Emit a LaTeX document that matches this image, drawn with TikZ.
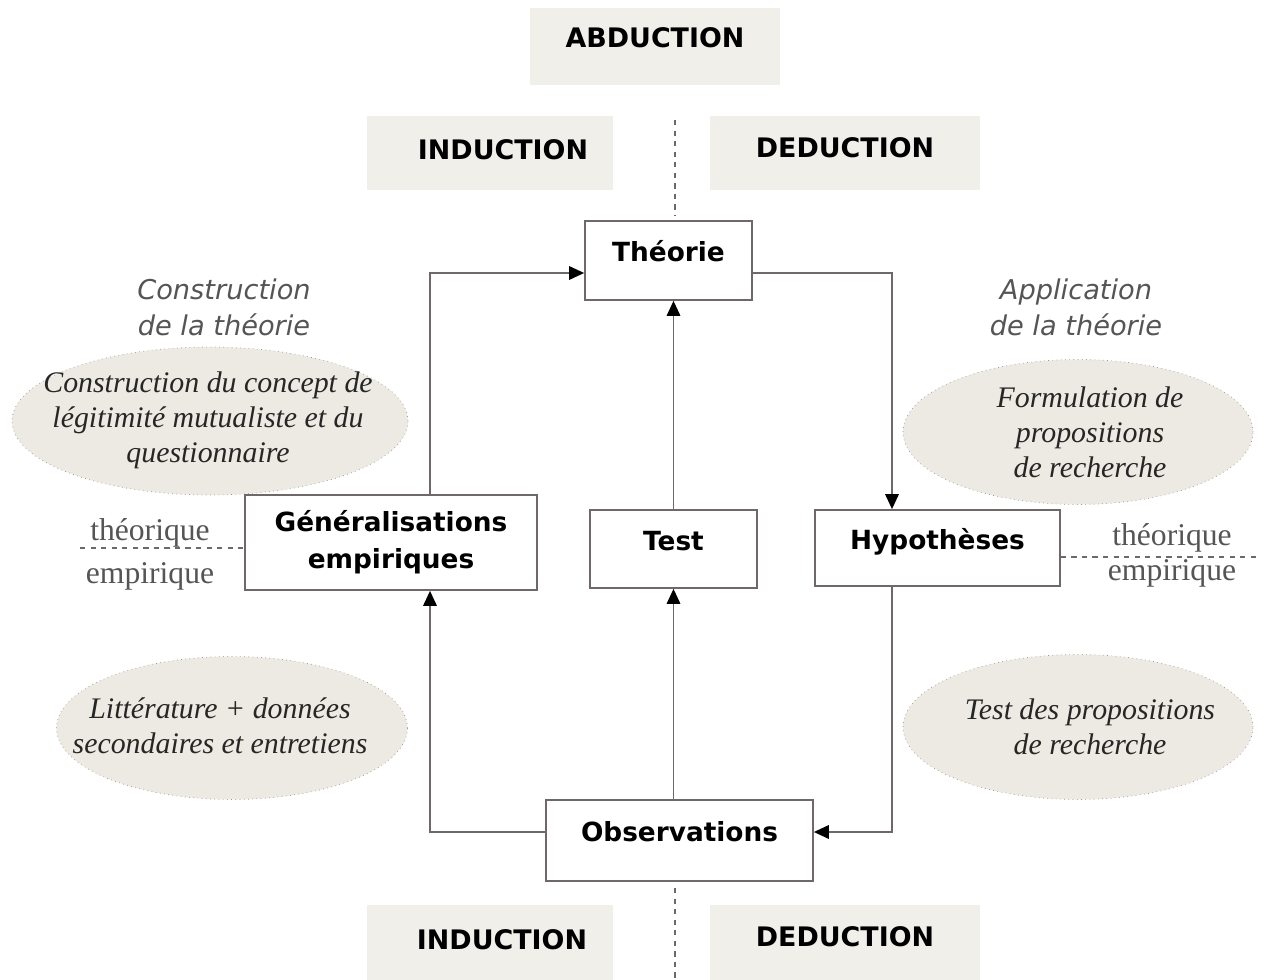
\documentclass[tikz,border=0pt]{standalone}
\usepackage{fontspec}
\setmainfont{Liberation Serif}
\setsansfont{DejaVu Sans}
\usetikzlibrary{shapes,arrows.meta}
\definecolor{trait}{RGB}{110,104,104}
\definecolor{fond}{RGB}{240,239,234}
\definecolor{fondbulle}{RGB}{236,234,226}
\definecolor{gristexte}{RGB}{85,85,85}
\tikzset{
  cadre/.style={draw=trait,line width=1pt,fill=white,inner sep=0pt,
    font=\sffamily\bfseries\fontsize{15}{21}\selectfont},
  boite/.style={cadre,text height=0.75em,text depth=0.62em},
  etiquette/.style={font=\sffamily\bfseries\fontsize{15.3}{18}\selectfont,inner sep=0pt},
  bulle/.style={ellipse,draw=trait!70,dotted,fill=fondbulle,inner sep=0pt},
  textebulle/.style={align=center,font=\itshape\fontsize{17}{20}\selectfont,text=black!85},
  titre/.style={align=center,font=\sffamily\itshape\fontsize{15.5}{20.5}\selectfont,text=gristexte},
  niveau/.style={font=\fontsize{18}{20}\selectfont,text=gristexte},
  fleche/.style={draw=trait,line width=1pt,-{Triangle[length=3mm,width=2.7mm,color=black]}},
  limite/.style={draw=trait,dashed,line width=0.8pt}
}
\begin{document}
\begin{tikzpicture}[x=0.02cm,y=-0.02cm]
\useasboundingbox (0,0) rectangle (1264,980);

\fill[fond] (530,8) rectangle (780,85);
\fill[fond] (367,116) rectangle (613,190);
\fill[fond] (710,116) rectangle (980,190);
\fill[fond] (367,905) rectangle (613,980);
\fill[fond] (710,905) rectangle (980,980);
\node[etiquette] (abduction) at (655,38) {ABDUCTION};
\node[etiquette] (indhaut) at (503,150) {INDUCTION};
\node[etiquette] (dedhaut) at (845,148) {DEDUCTION};
\node[etiquette] (indbas) at (502,940) {INDUCTION};
\node[etiquette] (dedbas) at (845,937) {DEDUCTION};

\node[titre] (construction) at (224,307) {Construction\\de la théorie};
\node[titre] (application) at (1076,307) {Application\\de la théorie};

\node[bulle,minimum width=7.92cm,minimum height=2.96cm] (concept) at (210,421) {};
\node[bulle,minimum width=7.02cm,minimum height=2.86cm] (litterature) at (232,728) {};
\node[bulle,minimum width=7cm,minimum height=2.9cm] (formulation) at (1078,432) {};
\node[bulle,minimum width=7cm,minimum height=2.9cm] (testprop) at (1078,727) {};
\node[textebulle] (tconcept) at (208,420)
  {Construction du concept de\\légitimité mutualiste et du\\questionnaire};
\node[textebulle] (tlitterature) at (220,726) {Littérature + données\\secondaires et entretiens};
\node[textebulle] (tformulation) at (1090,432) {Formulation de\\propositions\\de recherche};
\node[textebulle] (ttestprop) at (1090,727) {Test des propositions\\de recherche};

\node[boite,minimum width=3.34cm,minimum height=1.58cm] (theorie) at (668.5,260.5) {Théorie};
\node[boite,minimum width=3.34cm,minimum height=1.56cm] (test) at (673.5,549) {Test};
\node[cadre,align=center,minimum width=5.84cm,minimum height=1.9cm] (gen) at (391,542.5)
  {Généralisations\\empiriques};
\node[boite,minimum width=4.9cm,minimum height=1.52cm] (hyp) at (937.5,548) {Hypothèses};
\node[boite,minimum width=5.34cm,minimum height=1.62cm] (obs) at (679.5,840.5) {Observations};

\node[niveau] (theog) at (150,533) {théorique};
\node[niveau] (empg) at (150,576) {empirique};
\node[niveau] (theod) at (1172,538) {théorique};
\node[niveau] (empd) at (1172,573) {empirique};

\coordinate (lx) at (430,0);
\coordinate (rx) at (892,0);
\draw[fleche] (gen.north -| lx) |- ([yshift=-0.25cm]theorie.west);
\draw[fleche] ([yshift=-0.25cm]theorie.east) -| (hyp.north -| rx);
\draw[fleche] (hyp.south -| rx) |- ([yshift=0.17cm]obs.east);
\draw[fleche] ([yshift=0.17cm]obs.west) -| (gen.south -| lx);
\draw[fleche] (obs.north -| test.south) -- (test.south);
\draw[fleche] (test.north) -- (theorie.south -| test.north);

\coordinate (vh1) at (675,120);
\coordinate (vh2) at (675,215);
\coordinate (vb1) at (675,888);
\coordinate (vb2) at (675,980);
\coordinate (hg) at (80,548);
\coordinate (hd) at (1260,557);
\draw[limite] (vh1) -- (vh2);
\draw[limite] (vb1) -- (vb2);
\draw[limite] (hg) -- (hg -| gen.west);
\draw[limite] (hd -| hyp.east) -- (hd);
\end{tikzpicture}
\end{document}
